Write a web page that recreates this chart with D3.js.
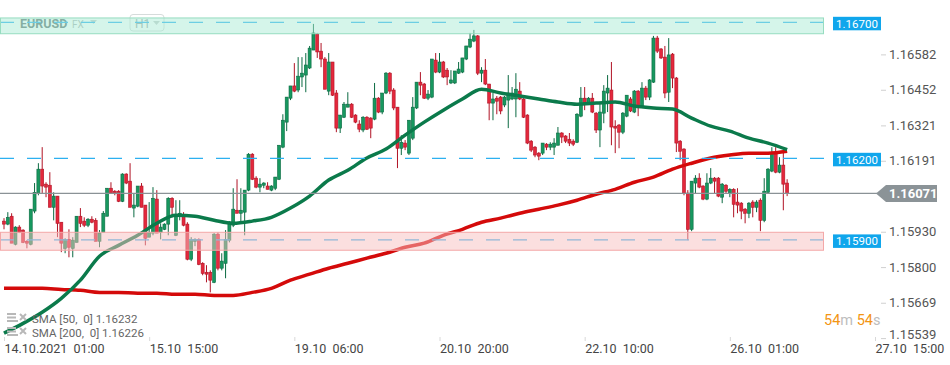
<!DOCTYPE html>
<html><head><meta charset="utf-8">
<script src="https://cdn.jsdelivr.net/npm/d3@7"></script>
<style>body{margin:0;background:#fff;} svg{display:block;font-family:Roboto, "Open Sans", sans-serif;}</style>
</head><body><svg id="c" width="950" height="365"></svg>
<script>
const opens=[1.15969,1.15958,1.15987,1.15884,1.15947,1.15936,1.15895,1.15884,1.16006,1.16072,
1.16160,1.16105,1.16101,1.16020,1.16061,1.15965,1.15869,1.15902,1.15869,1.15891,
1.15987,1.15969,1.15954,1.15976,1.15972,1.15895,1.15928,1.15987,1.16090,1.16079,
1.16079,1.16042,1.16142,1.16116,1.16017,1.16024,1.16098,1.16028,1.15910,1.15925,
1.16050,1.15928,1.15939,1.15958,1.16053,1.15917,1.15987,1.15994,1.15958,1.15829,
1.15895,1.15902,1.15814,1.15781,1.15781,1.15744,1.15921,1.15796,1.15814,1.15899,
1.15954,1.16009,1.15998,1.16002,1.16083,1.16215,1.16127,1.16094,1.16101,1.16098,
1.16083,1.16090,1.16123,1.16241,1.16333,1.16421,1.16466,1.16451,1.16499,1.16506,
1.16532,1.16598,1.16657,1.16594,1.16565,1.16447,1.16554,1.16440,1.16311,1.16351,
1.16388,1.16399,1.16359,1.16326,1.16304,1.16351,1.16348,1.16344,1.16421,1.16370,
1.16440,1.16513,1.16451,1.16388,1.16237,1.16256,1.16219,1.16274,1.16385,1.16480,
1.16473,1.16421,1.16425,1.16561,1.16517,1.16554,1.16524,1.16477,1.16477,1.16513,
1.16517,1.16565,1.16609,1.16631,1.16650,1.16513,1.16524,1.16473,1.16403,1.16421,
1.16425,1.16396,1.16414,1.16418,1.16418,1.16447,1.16418,1.16359,1.16263,1.16241,
1.16219,1.16219,1.16252,1.16241,1.16241,1.16248,1.16293,1.16282,1.16270,1.16263,
1.16259,1.16355,1.16421,1.16403,1.16421,1.16366,1.16304,1.16366,1.16440,1.16451,
1.16318,1.16322,1.16296,1.16355,1.16418,1.16370,1.16447,1.16392,1.16458,1.16425,
1.16480,1.16642,1.16602,1.16572,1.16443,1.16583,1.16495,1.16263,1.16234,1.16072,
1.15939,1.16109,1.16127,1.16098,1.16050,1.16109,1.16127,1.16127,1.16057,1.16101,
1.16072,1.16086,1.16039,1.16035,1.16013,1.15998,1.16039,1.16020,1.16046,1.15972,
1.16075,1.16153,1.16219,1.16149,1.16175,1.16109];
const highs=[1.15980,1.16002,1.15998,1.15950,1.15954,1.15939,1.15899,1.16013,1.16109,1.16182,
1.16241,1.16112,1.16149,1.16075,1.16061,1.15965,1.15906,1.15939,1.15910,1.15987,
1.16017,1.15983,1.15980,1.15987,1.15980,1.15936,1.16006,1.16090,1.16112,1.16083,
1.16083,1.16145,1.16145,1.16182,1.16072,1.16098,1.16109,1.16028,1.16039,1.16094,
1.16083,1.15961,1.15961,1.16057,1.16057,1.16046,1.16046,1.16002,1.15965,1.15910,
1.15906,1.15906,1.15818,1.15807,1.15788,1.15925,1.15928,1.15851,1.15936,1.15969,
1.16090,1.16123,1.16090,1.16083,1.16219,1.16219,1.16134,1.16127,1.16112,1.16112,
1.16101,1.16131,1.16248,1.16362,1.16425,1.16466,1.16550,1.16572,1.16572,1.16587,
1.16613,1.16694,1.16661,1.16624,1.16572,1.16587,1.16554,1.16451,1.16359,1.16407,
1.16443,1.16403,1.16362,1.16340,1.16355,1.16355,1.16351,1.16477,1.16425,1.16440,
1.16517,1.16517,1.16458,1.16388,1.16285,1.16267,1.16340,1.16425,1.16480,1.16517,
1.16477,1.16451,1.16565,1.16587,1.16587,1.16558,1.16532,1.16524,1.16521,1.16554,
1.16569,1.16613,1.16661,1.16672,1.16653,1.16535,1.16565,1.16473,1.16440,1.16429,
1.16429,1.16429,1.16506,1.16462,1.16513,1.16480,1.16421,1.16362,1.16267,1.16245,
1.16223,1.16256,1.16256,1.16259,1.16274,1.16315,1.16296,1.16285,1.16293,1.16270,
1.16366,1.16462,1.16462,1.16425,1.16440,1.16370,1.16407,1.16469,1.16506,1.16554,
1.16340,1.16326,1.16370,1.16432,1.16425,1.16451,1.16451,1.16480,1.16466,1.16491,
1.16650,1.16650,1.16605,1.16613,1.16642,1.16587,1.16499,1.16267,1.16237,1.16083,
1.16116,1.16138,1.16145,1.16101,1.16145,1.16164,1.16131,1.16131,1.16109,1.16105,
1.16090,1.16090,1.16090,1.16039,1.16017,1.16039,1.16046,1.16046,1.16053,1.16127,
1.16164,1.16241,1.16241,1.16204,1.16223,1.16123];
const lows=[1.15939,1.15954,1.15888,1.15880,1.15925,1.15888,1.15869,1.15880,1.15998,1.16064,
1.16072,1.16057,1.16020,1.15972,1.15910,1.15855,1.15851,1.15836,1.15836,1.15891,
1.15947,1.15947,1.15947,1.15961,1.15895,1.15873,1.15928,1.15987,1.16072,1.16064,
1.16039,1.16039,1.16105,1.16020,1.15983,1.16020,1.16020,1.15880,1.15910,1.15917,
1.15925,1.15902,1.15936,1.15917,1.15983,1.15914,1.15972,1.15950,1.15825,1.15822,
1.15877,1.15807,1.15770,1.15744,1.15707,1.15741,1.15788,1.15788,1.15759,1.15891,
1.15947,1.15998,1.15961,1.15917,1.16079,1.16120,1.16090,1.16075,1.16090,1.16086,
1.16079,1.16083,1.16120,1.16237,1.16300,1.16414,1.16443,1.16443,1.16462,1.16443,
1.16528,1.16598,1.16569,1.16535,1.16454,1.16432,1.16429,1.16296,1.16293,1.16348,
1.16388,1.16348,1.16329,1.16296,1.16296,1.16304,1.16274,1.16340,1.16366,1.16362,
1.16436,1.16436,1.16377,1.16164,1.16212,1.16230,1.16212,1.16267,1.16381,1.16432,
1.16418,1.16414,1.16421,1.16513,1.16513,1.16495,1.16469,1.16473,1.16473,1.16510,
1.16513,1.16561,1.16605,1.16627,1.16506,1.16480,1.16469,1.16340,1.16340,1.16362,
1.16362,1.16388,1.16311,1.16414,1.16351,1.16414,1.16348,1.16252,1.16223,1.16204,
1.16193,1.16212,1.16230,1.16230,1.16212,1.16248,1.16256,1.16256,1.16245,1.16245,
1.16256,1.16351,1.16377,1.16399,1.16366,1.16293,1.16241,1.16329,1.16370,1.16248,
1.16219,1.16237,1.16289,1.16351,1.16370,1.16366,1.16355,1.16388,1.16414,1.16414,
1.16477,1.16587,1.16565,1.16421,1.16407,1.16458,1.16223,1.16193,1.16064,1.15899,
1.15932,1.16072,1.16090,1.16046,1.16046,1.16105,1.16072,1.16057,1.16035,1.16072,
1.16057,1.15983,1.15998,1.15976,1.15961,1.15980,1.15983,1.16002,1.15932,1.15965,
1.16072,1.16149,1.16145,1.16145,1.16009,1.16061];
const closes=[1.15958,1.15983,1.15888,1.15947,1.15928,1.15891,1.15888,1.16013,1.16075,1.16160,
1.16098,1.16094,1.16020,1.16061,1.15961,1.15888,1.15902,1.15873,1.15899,1.15987,
1.15961,1.15954,1.15976,1.15965,1.15895,1.15925,1.15998,1.16090,1.16072,1.16072,
1.16042,1.16142,1.16109,1.16020,1.16028,1.16098,1.16020,1.15906,1.15928,1.16053,
1.15925,1.15947,1.15958,1.16053,1.16020,1.15994,1.15998,1.15954,1.15829,1.15902,
1.15902,1.15810,1.15777,1.15774,1.15752,1.15921,1.15796,1.15822,1.15902,1.15961,
1.16013,1.15998,1.16009,1.16083,1.16215,1.16123,1.16094,1.16105,1.16109,1.16086,
1.16098,1.16131,1.16248,1.16340,1.16425,1.16466,1.16447,1.16502,1.16513,1.16543,
1.16605,1.16661,1.16591,1.16565,1.16454,1.16554,1.16432,1.16311,1.16359,1.16399,
1.16399,1.16351,1.16333,1.16307,1.16351,1.16307,1.16311,1.16421,1.16370,1.16440,
1.16513,1.16447,1.16385,1.16237,1.16259,1.16241,1.16340,1.16388,1.16480,1.16469,
1.16421,1.16436,1.16565,1.16517,1.16554,1.16499,1.16499,1.16488,1.16521,1.16528,
1.16569,1.16613,1.16638,1.16650,1.16513,1.16524,1.16473,1.16403,1.16418,1.16410,
1.16374,1.16425,1.16440,1.16440,1.16454,1.16418,1.16351,1.16256,1.16230,1.16212,
1.16208,1.16256,1.16241,1.16252,1.16256,1.16293,1.16278,1.16263,1.16256,1.16252,
1.16362,1.16421,1.16403,1.16421,1.16370,1.16304,1.16370,1.16447,1.16458,1.16315,
1.16311,1.16296,1.16366,1.16432,1.16374,1.16447,1.16392,1.16458,1.16425,1.16488,
1.16642,1.16594,1.16569,1.16440,1.16580,1.16495,1.16256,1.16226,1.16072,1.15939,
1.16116,1.16127,1.16094,1.16050,1.16109,1.16127,1.16116,1.16061,1.16105,1.16079,
1.16086,1.16031,1.16028,1.16006,1.15998,1.16035,1.16020,1.16039,1.15972,1.16079,
1.16160,1.16219,1.16149,1.16175,1.16105,1.16071];

const smaIdx=[0,5,10,15,20,25,30,35,40,45,50,55,60,65,70,75,80,85,90,95,100,105,110,115,120,125,130,135,140,145,150,155,160,165,170,175,180,185,190,195,200,205];
const sma50=[1.15557,1.15593,1.15634,1.15685,1.15752,1.15840,1.15880,1.15917,1.15961,1.15991,1.15987,1.15972,1.15961,1.15969,1.15983,1.16017,1.16061,1.16120,1.16156,1.16201,1.16234,1.16285,1.16333,1.16377,1.16418,1.16454,1.16440,1.16429,1.16418,1.16407,1.16399,1.16403,1.16407,1.16392,1.16385,1.16381,1.16348,1.16318,1.16300,1.16274,1.16256,1.16232];
const sma200=[1.15722,1.15722,1.15722,1.15718,1.15715,1.15707,1.15707,1.15704,1.15704,1.15700,1.15700,1.15696,1.15696,1.15707,1.15722,1.15752,1.15774,1.15796,1.15814,1.15833,1.15851,1.15873,1.15888,1.15917,1.15939,1.15965,1.15980,1.15998,1.16013,1.16028,1.16046,1.16068,1.16086,1.16112,1.16131,1.16160,1.16182,1.16201,1.16212,1.16219,1.16219,1.16226];

const yTicks=[1.16582,1.16452,1.16321,1.16191,1.15930,1.15800,1.15669,1.15539];
const timeIdx=[0,38,76,114,152,190,228];
const timeLabels=["14.10.2021  01:00","15.10  15:00","19.10  06:00","20.10  20:00","22.10  10:00","26.10  01:00","27.10  15:00"];
const levels=[1.16700,1.16200,1.15900];
const greenZone=[1.16658,1.16716];
const redZone=[1.15862,1.15928];
const lastPrice=1.16071;
const smaLegend=["SMA [50,  0] 1.16232","SMA [200,  0] 1.16226"];

const svg=d3.select('#c');
const x=d3.scaleLinear().domain([0,228]).range([4,875]);
const y=d3.scaleLinear().domain([1.15532,1.16782]).range([340,0]);
const plotRight=823;

// top-left header (under zone)
const hdr=svg.append('g');
hdr.append('text').attr('x',20).attr('y',28).attr('font-size',12.5).attr('font-weight',700).attr('fill','#5e716e').text('EURUSD');
hdr.append('text').attr('x',72).attr('y',28).attr('font-size',10).attr('fill','#aab3b2').text('FX');
hdr.append('path').attr('d','M90,20 L97,20 L93.5,24 Z').attr('fill','#c5cccb');
hdr.append('rect').attr('x',130).attr('y',14.5).attr('width',34).attr('height',16.5).attr('rx',3).attr('fill','none').attr('stroke','#d6dcdb');
hdr.append('text').attr('x',135).attr('y',27.5).attr('font-size',12).attr('fill','#9aa5a3').text('H1');
hdr.append('path').attr('d','M153,21 L160,21 L156.5,25 Z').attr('fill','#c5cccb');

// candles
const cg=svg.append('g');
const data=opens.map((o,i)=>({i,o,h:highs[i],l:lows[i],c:closes[i]}));
const up='#17985f', upS='#0b6a42', dn='#e4283c', dnS='#b01325';
cg.selectAll('line.w').data(data).join('line').attr('class','w')
  .attr('x1',d=>x(d.i)).attr('x2',d=>x(d.i)).attr('y1',d=>y(d.h)).attr('y2',d=>y(d.l))
  .attr('stroke',d=>d.c>=d.o?upS:dnS).attr('stroke-width',1);
cg.selectAll('rect.b').data(data).join('rect').attr('class','b')
  .attr('x',d=>x(d.i)-1.5).attr('width',3)
  .attr('y',d=>y(Math.max(d.o,d.c)))
  .attr('height',d=>Math.max(1,Math.abs(y(d.o)-y(d.c))))
  .attr('fill',d=>d.c>=d.o?up:dn).attr('stroke',d=>d.c>=d.o?upS:dnS).attr('stroke-width',0.6);

// SMA lines
const line=d3.line().x((d,i)=>x(smaIdx[i])).y(d=>y(d)).curve(d3.curveMonotoneX);
svg.append('path').attr('d',line(sma200)).attr('fill','none').attr('stroke','#d40a0a').attr('stroke-width',3.5).attr('stroke-linejoin','round');
svg.append('path').attr('d',line(sma50)).attr('fill','none').attr('stroke','#0b7a4b').attr('stroke-width',3.5).attr('stroke-linejoin','round');

// dashed levels
svg.selectAll('line.lv').data(levels).join('line').attr('class','lv')
  .attr('x1',0).attr('x2',832).attr('y1',d=>y(d)).attr('y2',d=>y(d))
  .attr('stroke','#2cb0f0').attr('stroke-width',1.3).attr('stroke-dasharray','14,13');

// zones
svg.append('rect').attr('x',0.5).attr('width',plotRight).attr('y',y(greenZone[1])).attr('height',y(greenZone[0])-y(greenZone[1]))
  .attr('fill','rgb(171,235,213)').attr('fill-opacity',0.5).attr('stroke','#97dcc0').attr('stroke-width',1);
svg.append('rect').attr('x',0.5).attr('width',plotRight).attr('y',y(redZone[1])).attr('height',y(redZone[0])-y(redZone[1]))
  .attr('fill','rgb(248,192,192)').attr('fill-opacity',0.5).attr('stroke','#f3a8a8').attr('stroke-width',1);

// level boxes
const lb=svg.selectAll('g.lb').data(levels).join('g').attr('class','lb')
  .attr('transform',d=>`translate(833,${Math.max(16.5,y(d)-5.5)})`);
lb.append('rect').attr('width',48).attr('height',13.5).attr('fill','#10a6ec');
lb.append('text').attr('x',24).attr('y',10.8).attr('text-anchor','middle').attr('font-size',11.5).attr('fill','#fff').text(d=>d.toFixed(5));

// last price line
svg.append('line').attr('x1',0).attr('x2',877).attr('y1',y(lastPrice)).attr('y2',y(lastPrice)).attr('stroke','#8a9296').attr('stroke-width',1.2);

// right axis
const ya=svg.append('g').attr('transform','translate(881,0)')
  .call(d3.axisRight(y).tickValues(yTicks).tickSize(5).tickPadding(3).tickFormat(d=>d.toFixed(5)));
ya.select('.domain').remove();
ya.selectAll('line').attr('stroke','#d0d0d0');
ya.selectAll('text').attr('fill','#555').attr('font-size',13).attr('font-family','Roboto, sans-serif');
ya.selectAll('.tick').filter(d=>d===1.15539).select('text').attr('dy','0.05em');

// last price tag
const ly=y(lastPrice);
svg.append('path').attr('d',`M876,${ly} L886,${ly-8.5} L937,${ly-8.5} L937,${ly+8.5} L886,${ly+8.5} Z`).attr('fill','#8b9397');
svg.append('text').attr('x',889).attr('y',ly+4.5).attr('font-size',13).attr('font-weight',700).attr('fill','#fff').text(lastPrice.toFixed(5));

// bottom axis
const xa=svg.append('g').attr('transform','translate(0,337)')
  .call(d3.axisBottom(x).tickValues(timeIdx).tickSize(4).tickPadding(3).tickFormat((d,i)=>timeLabels[i]));
xa.select('.domain').remove();
xa.selectAll('line').attr('stroke','#d8d8d8');
xa.selectAll('text').attr('text-anchor','start').attr('fill','#444').attr('font-size',12.5)
  .attr('font-family','Roboto, sans-serif').style('white-space','pre');

// SMA legend bottom-left
smaLegend.forEach((t,k)=>{
  const g=svg.append('g').attr('transform',`translate(0,${313+k*14})`);
  g.append('rect').attr('x',7).attr('y',0).attr('width',9).attr('height',2).attr('fill','#b8b8b8');
  g.append('rect').attr('x',7).attr('y',3.5).attr('width',9).attr('height',2).attr('fill','#b8b8b8');
  g.append('rect').attr('x',7).attr('y',7).attr('width',11).attr('height',2).attr('fill','#b8b8b8');
  g.append('path').attr('d','M20,1 L26,7 M26,1 L20,7').attr('stroke','#b8b8b8').attr('stroke-width',2);
  g.append('text').attr('x',32).attr('y',9.5).attr('font-size',11.5).attr('fill','#666').style('white-space','pre').text(t);
});

// countdown
const cd=svg.append('text').attr('x',824).attr('y',325).attr('font-size',14.5);
cd.append('tspan').attr('fill','#f39514').text('54');
cd.append('tspan').attr('fill','#bdbdbd').text('m ');
cd.append('tspan').attr('fill','#f39514').text('54');
cd.append('tspan').attr('fill','#bdbdbd').text('s');
</script>
</body></html>
